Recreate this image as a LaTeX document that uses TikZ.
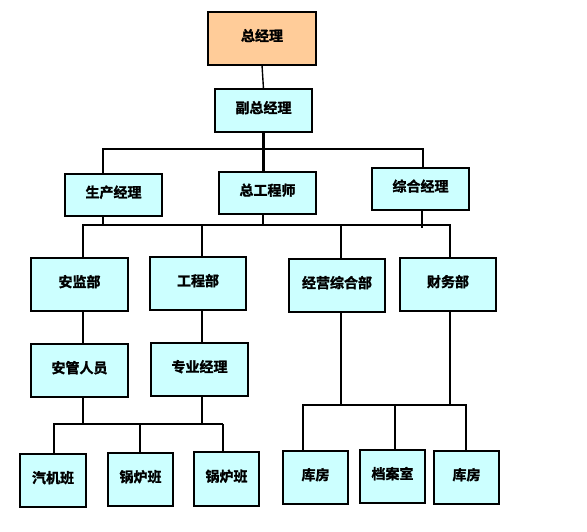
\documentclass[tikz,border=0pt]{standalone}
\usepackage{fontspec}
\newfontfamily\cjk[BoldFont={Noto Sans CJK SC Bold}, BoldFeatures={FakeBold=1.5}]{Noto Sans CJK SC}
\definecolor{topfill}{HTML}{FFCC99}
\definecolor{boxfill}{HTML}{CCFFFF}

\begin{document}
\begin{tikzpicture}[x=1pt,y=-1pt]
\tikzset{ box/.style={draw, line width=2pt, fill=boxfill, inner sep=0pt, outer sep=0pt,
    font=\cjk\bfseries\fontsize{14}{16}\selectfont, text height=10pt, text depth=5pt},
  link/.style={line width=1.4pt}, thicklink/.style={line width=2.4pt} }

\useasboundingbox (0,0) rectangle (587,531);

%\draw [lightgray, dashed](0,0) grid [step=50] (587,531);

\node [box, fill=topfill, minimum width=108, minimum height=53] (gm) at (262,38.5) {总经理};
\node [box, minimum width=97, minimum height=43] (vgm) at (263.5,110.5) {副总经理};

\node [box, minimum width=97, minimum height=42] (prod) at (113.5,195) {生产经理};
\node [box, minimum width=97, minimum height=42] (chief) at (267.5,193) {总工程师};
\node [box, minimum width=97, minimum height=42] (admin) at (420.5,189) {综合经理};

\node [box, minimum width=97, minimum height=53] (safety) at (79.5,284.5) {安监部};
\node [box, minimum width=96, minimum height=53] (eng) at (198,283.5) {工程部};
\node [box, minimum width=96, minimum height=53] (biz) at (337,285.5) {经营综合部};
\node [box, minimum width=96, minimum height=53] (fin) at (448,284.5) {财务部};

\node [box, minimum width=97, minimum height=53] (staff) at (79.5,370.5) {安管人员};
\node [box, minimum width=97, minimum height=53] (spec) at (199.5,369.5) {专业经理};

\node [box, minimum width=66, minimum height=53] (turb) at (53,480.5) {汽机班};
\node [box, minimum width=65, minimum height=53] (boilA) at (140.5,479.5) {锅炉班};
\node [box, minimum width=65, minimum height=54] (boilB) at (226.5,479) {锅炉班};
\node [box, minimum width=65, minimum height=53] (storeA) at (315.5,477.5) {库房};
\node [box, minimum width=65, minimum height=53] (archive) at (392.5,476.5) {档案室};
\node [box, minimum width=65, minimum height=53] (storeB) at (466.5,477.5) {库房};

% first level
\coordinate (b1w) at (103,149);
\coordinate (b1e) at (423,149);
\draw [link] (gm.south) -- (vgm.north);
\draw [thicklink] (vgm.south) -- (vgm.south |- chief.north);
\draw [link] (b1w |- prod.north) -- (b1w) -- (b1e) -- (b1e |- admin.north);

% second level
\coordinate (b2w) at (83,225);
\coordinate (b2e) at (450,225);
\coordinate (t1) at (103,225);
\coordinate (t2) at (263,225);
\coordinate (t3) at (422,228);
\coordinate (d2) at (202,225);
\coordinate (d3) at (341,225);
\draw [thicklink] (b2w |- safety.north) -- (b2w) -- (b2e) -- (b2e |- fin.north);
\draw [link] (t1 |- prod.south) -- (t1);
\draw [link] (t2 |- chief.south) -- (t2);
\draw [link] (t3 |- admin.south) -- (t3);
\draw [link] (d2) -- (d2 |- eng.north);
\draw [link] (d3) -- (d3 |- biz.north);
\draw [link] (safety.south -| b2w) -- (staff.north -| b2w);
\draw [link] (eng.south -| d2) -- (spec.north -| d2);

% groups
\coordinate (b3w) at (54,424);
\coordinate (b3m) at (140,424);
\coordinate (b3e) at (223,424);
\draw [thicklink] (staff.south -| b2w) -- (b2w |- b3w);
\draw [thicklink] (spec.south -| d2) -- (d2 |- b3w);
\draw [link] (b3w |- turb.north) -- (b3w) -- (b3e);
\draw [thicklink] (b3e) -- (b3e |- boilB.north);
\draw [link] (b3m) -- (b3m |- boilA.north);

\coordinate (b4w) at (303,405);
\coordinate (b4m) at (395,405);
\coordinate (b4e) at (466,405);
\draw [link] (biz.south -| d3) -- (d3 |- b4w);
\draw [link] (fin.south -| b2e) -- (b2e |- b4w);
\draw [link] (b4w |- storeA.north) -- (b4w) -- (b4e) -- (b4e |- storeB.north);
\draw [link] (b4m) -- (b4m |- archive.north);

\end{tikzpicture}
\end{document}
